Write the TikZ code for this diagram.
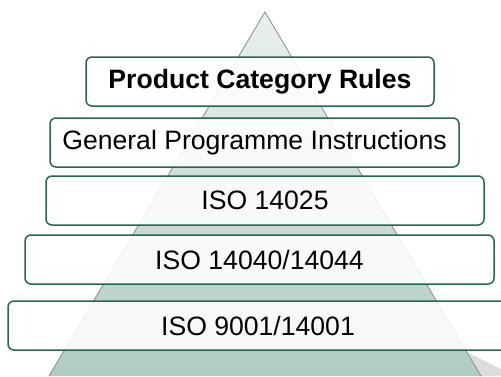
\documentclass[tikz,border=0pt]{standalone}
\usepackage{fontspec}
\setmainfont{Liberation Sans}
\usetikzlibrary{shapes,positioning}
\definecolor{tiergreen}{RGB}{38,102,84}
\definecolor{pyrtop}{RGB}{232,240,237}
\definecolor{pyrbottom}{RGB}{176,204,195}
\definecolor{shadowgray}{RGB}{221,221,221}

\begin{document}
\begin{tikzpicture}[x=1pt, y=-1pt,
    tier/.style={rectangle, rounded corners=6pt, draw=tiergreen, line width=1.5pt, fill=white, fill opacity=0.88, text opacity=1, inner sep=0pt, minimum height=49pt, align=center, font=\fontsize{26.6}{30}\selectfont},
    pyredge/.style={draw=gray!90, line width=0.8pt}
]
\useasboundingbox (0,0) rectangle (501,376);

% shadow and pyramid behind the tiers
\fill[shadowgray] (467,352) -- (501,369) -- (501,376) -- (479,376) -- cycle;
\shade[top color=pyrtop, bottom color=pyrbottom] (265,12) -- (481,376) -- (49,376) -- cycle;
\draw[pyredge] (49,376) -- (265,12) -- (481,376);

% tiers, top to bottom
\node[tier, minimum width=348pt] (pcr) at (260,81.5) {\textbf{Product Category Rules}};
\node[tier, minimum width=409pt] (gpi) at (254.5,142.5) {General Programme Instructions};
\node[tier, minimum width=438pt] (iso14025) at (265,200.5) {ISO 14025};
\node[tier, minimum width=469pt] (iso14040) at (259.5,259.5) {ISO 14040/14044};
\node[tier, minimum width=500pt] (iso9001) at (258,325.5) {ISO 9001/14001};

\end{tikzpicture}
\end{document}
